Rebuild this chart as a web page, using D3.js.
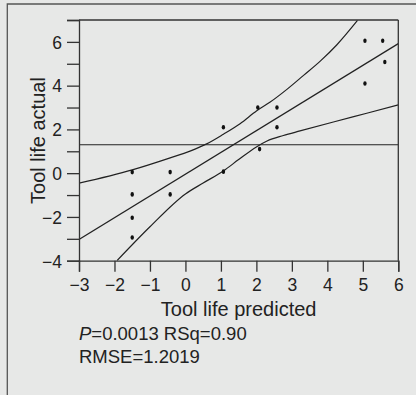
<!DOCTYPE html>
<html>
<head>
<meta charset="utf-8">
<script src="https://cdn.jsdelivr.net/npm/d3@7"></script>
<style>
  html, body { margin: 0; padding: 0; background: #e7e8e7; }
  svg { display: block; }
  text { font-family: "Liberation Sans", Arial, Helvetica, sans-serif; fill: #222; }
</style>
</head>
<body>
<svg id="chart" width="416" height="395"></svg>
<script>
// ---- data ----
const predicted = [-1.5, -1.5, -1.5, -1.5, -0.43, -0.43, 1.07, 1.07, 2.04, 2.09, 2.58, 2.58, 5.06, 5.06, 5.56, 5.62];
const actual    = [0.05, -0.97, -2.04, -2.94, 0.05, -0.97, 2.1, 0.07, 3.0, 1.1, 3.0, 2.1, 6.05, 4.1, 6.05, 5.08];

const fitX = [-3, 6];
const fitY = [-3.03, 5.92];

const upperX = [-3, -1.5, -0.43, 0.13, 0.6, 1.07, 1.54, 2.01, 2.39, 2.86, 3.33, 3.8, 4.27, 4.85];
const upperY = [-0.46, 0.15, 0.7, 1.01, 1.34, 1.78, 2.26, 2.85, 3.25, 3.83, 4.47, 5.12, 5.87, 6.98];

const lowerX = [-1.93, -1, 0, 0.5, 1.07, 1.5, 2.0, 2.3, 2.76, 3.23, 4.17, 5.11, 6];
const lowerY = [-4.0, -2.45, -0.95, -0.45, 0.1, 0.62, 1.2, 1.47, 1.72, 1.93, 2.34, 2.74, 3.12];

const meanActual = 1.3;

const xTicks = [-3, -2, -1, 0, 1, 2, 3, 4, 5, 6];
const yTicks = [-4, -3, -2, -1, 0, 1, 2, 3, 4, 5, 6, 7];
const yLabelled = [-4, -2, 0, 2, 4, 6];

const xTitle = "Tool life predicted";
const yTitle = "Tool life actual";
const statLine2 = "RMSE=1.2019";

// ---- drawing ----
const svg = d3.select("#chart");
const pL = 79, pR = 398.3, pT = 20, pB = 260.7;
const x = d3.scaleLinear().domain([-3, 6]).range([pL, pR]);
const y = d3.scaleLinear().domain([-4, 7]).range([pB, pT]);

// outer frame (only left and top edges visible)
svg.append("path")
  .attr("d", "M7.3,395 L7.3,4 L416,4")
  .attr("fill", "none").attr("stroke", "#555").attr("stroke-width", 1.3);

svg.append("defs").append("clipPath").attr("id", "plotclip")
  .append("rect").attr("x", pL).attr("y", pT).attr("width", pR - pL).attr("height", pB - pT);

const plot = svg.append("g").attr("clip-path", "url(#plotclip)");

// mean line
plot.append("line")
  .attr("x1", x(-3)).attr("x2", x(6))
  .attr("y1", y(meanActual)).attr("y2", y(meanActual))
  .attr("stroke", "#222").attr("stroke-width", 1.2);

const lineGen = d3.line().x(d => x(d[0])).y(d => y(d[1])).curve(d3.curveMonotoneX);

plot.append("path").datum(d3.zip(fitX, fitY)).attr("d", d3.line().x(d => x(d[0])).y(d => y(d[1])))
  .attr("fill", "none").attr("stroke", "#222").attr("stroke-width", 1.2);
plot.append("path").datum(d3.zip(upperX, upperY)).attr("d", lineGen)
  .attr("fill", "none").attr("stroke", "#222").attr("stroke-width", 1.2);
plot.append("path").datum(d3.zip(lowerX, lowerY)).attr("d", lineGen)
  .attr("fill", "none").attr("stroke", "#222").attr("stroke-width", 1.2);

// points
plot.selectAll("ellipse").data(d3.zip(predicted, actual)).join("ellipse")
  .attr("cx", d => x(d[0])).attr("cy", d => y(d[1]))
  .attr("rx", 1.7).attr("ry", 2.3).attr("fill", "#111");

// right and top border of plot
svg.append("line").attr("x1", pR).attr("x2", pR).attr("y1", pT).attr("y2", pB)
  .attr("stroke", "#333").attr("stroke-width", 1.3);
svg.append("line").attr("x1", pL).attr("x2", pR).attr("y1", pT).attr("y2", pT)
  .attr("stroke", "#333").attr("stroke-width", 1.3);

// axes
const yAxis = d3.axisLeft(y).tickValues(yTicks).tickSize(12).tickPadding(5)
  .tickFormat(d => yLabelled.includes(d) ? d3.format("")(d) : "");
const gy = svg.append("g").attr("transform", `translate(${pL},0)`).call(yAxis);
const xAxis = d3.axisBottom(x).tickValues(xTicks).tickSize(11).tickPadding(7).tickFormat(d3.format(""));
const gx = svg.append("g").attr("transform", `translate(0,${pB})`).call(xAxis);

[gx, gy].forEach(g => {
  g.select(".domain").attr("stroke", "#333").attr("stroke-width", 1.3);
  g.selectAll(".tick line").attr("stroke", "#333").attr("stroke-width", 1.3);
  g.selectAll(".tick text").attr("font-size", 17.5).attr("fill", "#222")
    .style("font-family", '"Liberation Sans", Arial, sans-serif');
});
gy.selectAll(".tick text").attr("dy", "0.36em");

// titles
svg.append("text").attr("x", (pL + pR) / 2).attr("y", 316)
  .attr("text-anchor", "middle").attr("font-size", 20).text(xTitle);
svg.append("text").attr("transform", "translate(45,140.5) rotate(-90)")
  .attr("text-anchor", "middle").attr("font-size", 20).text(yTitle);

// stats
const s1 = svg.append("text").attr("x", pL).attr("y", 340).attr("font-size", 18.5);
s1.append("tspan").attr("font-style", "italic").text("P");
s1.append("tspan").text("=0.0013 RSq=0.90");
svg.append("text").attr("x", pL).attr("y", 362.7).attr("font-size", 18.5).text(statLine2);
</script>
</body>
</html>
